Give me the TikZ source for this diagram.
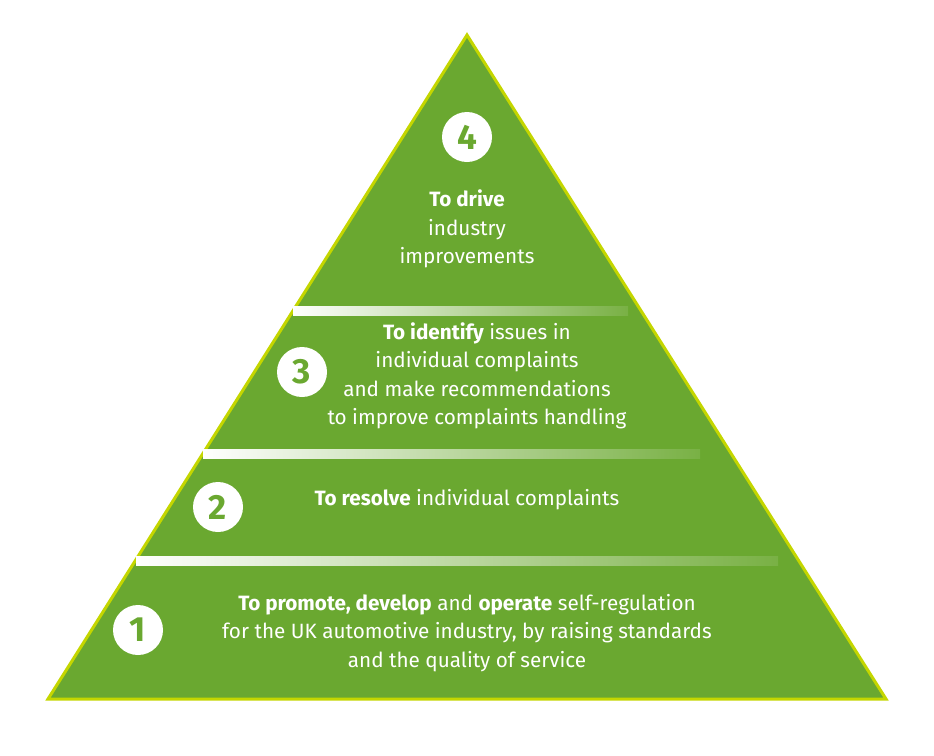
\documentclass[tikz,border=0pt]{standalone}
\usepackage{fontspec}
\setmainfont{Fira Sans}
\definecolor{pyrgreen}{RGB}{106,168,48}
\definecolor{pyredge}{RGB}{196,214,0}
\usetikzlibrary{positioning,calc}

\begin{document}
\begin{tikzpicture}[
  x=1pt,
  y=-1pt,
  levelnum/.style={
    circle,
    fill=white,
    minimum size=50pt,
    inner sep=0pt,
    text=pyrgreen,
    font=\fontsize{35}{35}\selectfont\bfseries
    },
  leveltext/.style={
    text=white,
    align=center,
    font=\fontsize{20.7}{28.5}\selectfont
    },
  divider/.style={
    left color=white,
    right color=pyrgreen!90!white
  }
]
\useasboundingbox (0,0) rectangle (934,755);

\coordinate (apex) at (467,35);
\coordinate (bl) at (48,699);
\coordinate (br) at (886,699);

\filldraw[fill=pyrgreen, draw=pyredge, line width=3pt] (apex) -- (br) -- (bl) -- cycle;

% light strips between the levels
\shade[divider] (293,306) rectangle (628,315);
\shade[divider] (203,449) rectangle (700,458);
\shade[divider] (136,556) rectangle (778,565);

\node[levelnum] (n4) at (467,137) {4};
\node[levelnum] (n3) at (302,372) {3};
\node[levelnum] (n2) at (218,507) {2};
\node[levelnum] (n1) at (138,630) {1};

\node[leveltext] (t4) at (467,229) {\textbf{To drive}\\industry\\improvements};
\node[leveltext] (t3) at (477,376)
  {\textbf{To identify} issues in\\individual complaints\\and make recommendations\\to improve complaints handling};
\node[leveltext] (t2) at (467,500) {\textbf{To resolve} individual complaints};
\node[leveltext] (t1) at (467,633)
  {\textbf{To promote, develop} and \textbf{operate} self-regulation\\for the UK automotive industry, by raising standards\\and the quality of service};

\end{tikzpicture}
\end{document}
